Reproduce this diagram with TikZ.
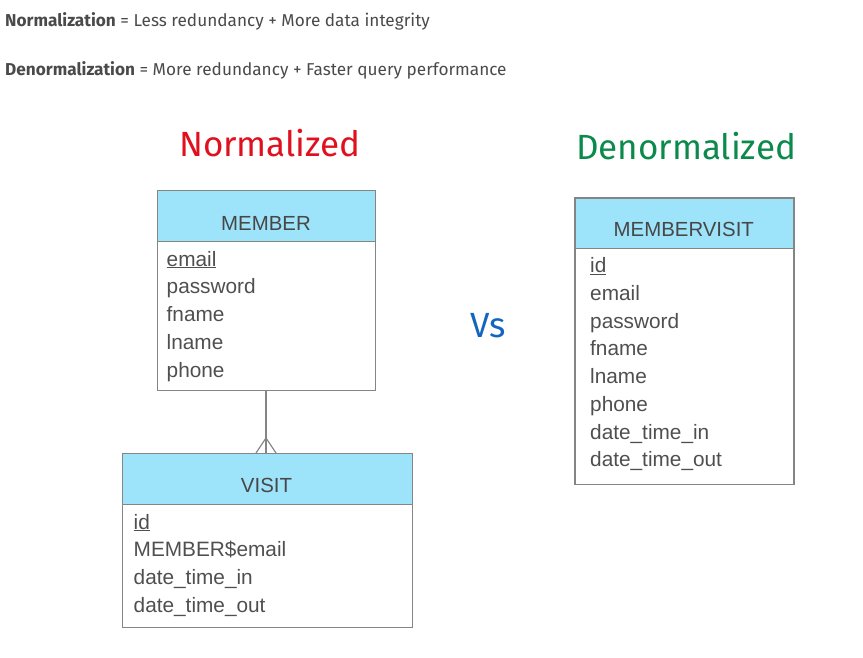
\documentclass[tikz,border=0pt]{standalone}
\usepackage{fontspec}
\setmainfont{Liberation Sans}
\newfontfamily\topfont{Fira Sans}
\newfontfamily\handfont{Fira Sans}
\usetikzlibrary{positioning}

\definecolor{headblue}{HTML}{9DE3FA}
\definecolor{linegray}{HTML}{858585}
\definecolor{fieldgray}{HTML}{4F4F4F}
\definecolor{topgray}{HTML}{4A4A4A}
\definecolor{normred}{HTML}{E0101E}
\definecolor{denormgreen}{HTML}{0B8A4C}
\definecolor{vsblue}{HTML}{1565C0}

\tikzset{
  tablebox/.style={draw=linegray, line width=1.2pt, inner sep=0pt, anchor=north west},
  headbox/.style={tablebox, fill=headblue},
  field/.style={anchor=base west, inner sep=0pt, text=fieldgray, font=\fontsize{20.8}{24}\selectfont},
  tabtitle/.style={anchor=base, inner sep=0pt, text=fieldgray!90!black, font=\fontsize{20.4}{24}\selectfont},
  hand/.style={inner sep=0pt, font=\handfont\fontsize{35}{38}\selectfont},
  topline/.style={anchor=base west, inner sep=0pt, text=topgray, font=\topfont\fontsize{17.2}{20}\selectfont},
}

\begin{document}
\begin{tikzpicture}[x=1pt, y=-1pt]

    % Size of the picture
    \def\picw{863}
    \def\pich{657}
    \def\rowh{27.75}   % row height in the tables
    \useasboundingbox (0,0) rectangle (\picw,\pich);

    % Top lines
    \node[topline] (normline) at (5,26) {\textbf{Normalization} = Less redundancy + More data integrity};
    \node[topline] (denormline) at (5,75) {\textbf{Denormalization} = More redundancy + Faster query performance};

    % Titles
    \node[hand, text=normred] (normtitle) at (270,143) {Normalized};
    \node[hand, text=denormgreen] (denormtitle) at (686,146) {Denormalized};
    \node[hand, text=vsblue] (vs) at (488,326) {Vs};

    % MEMBER
    \node[tablebox, minimum width=217.5, minimum height=200] (member) at (157,190) {};
    \node[headbox, minimum width=217.5, minimum height=50.5] (memberhead) at (157,190) {};
    \node[tabtitle] (membername) at (266,230) {MEMBER};
    \node[field] (mem0) at (166.5,266) {\underline{email}};
    \foreach \f [count=\i] in {password, fname, lname, phone}
        \node[field] (mem\i) at (166.5,{266+\rowh*\i}) {\f};

    % VISIT
    \node[tablebox, minimum width=290, minimum height=174] (visit) at (121.5,453) {};
    \node[headbox, minimum width=290, minimum height=50.5] (visithead) at (121.5,453) {};
    \node[tabtitle] (visitname) at (266.5,492) {VISIT};
    \node[field] (vis0) at (133.5,529) {\underline{id}};
    \foreach \f [count=\i] in {MEMBER\$email, date\_time\_in, date\_time\_out}
        \node[field] (vis\i) at (133.5,{529+\rowh*\i}) {\f};

    % MEMBERVISIT
    \node[tablebox, minimum width=219, minimum height=286.5] (membervisit) at (574.3,197.3) {};
    \node[headbox, minimum width=219, minimum height=50.5] (membervisithead) at (574.3,197.3) {};
    \node[tabtitle] (membervisitname) at (683.8,236) {MEMBERVISIT};
    \node[field] (mv0) at (590,272.5) {\underline{id}};
    \foreach \f [count=\i] in {email, password, fname, lname, phone, date\_time\_in, date\_time\_out}
        \node[field] (mv\i) at (590,{272.5+\rowh*\i}) {\f};

    % One to many
    \coordinate (C)  at (266,438);
    \coordinate (C1) at (256,453);
    \coordinate (C2) at (276,453);
    \draw[linegray, line width=1.2pt] (member.south -| C) -- (visithead.north -| C);
    \draw[linegray, line width=1.2pt] (C1) -- (C) -- (C2);

\end{tikzpicture}
\end{document}
